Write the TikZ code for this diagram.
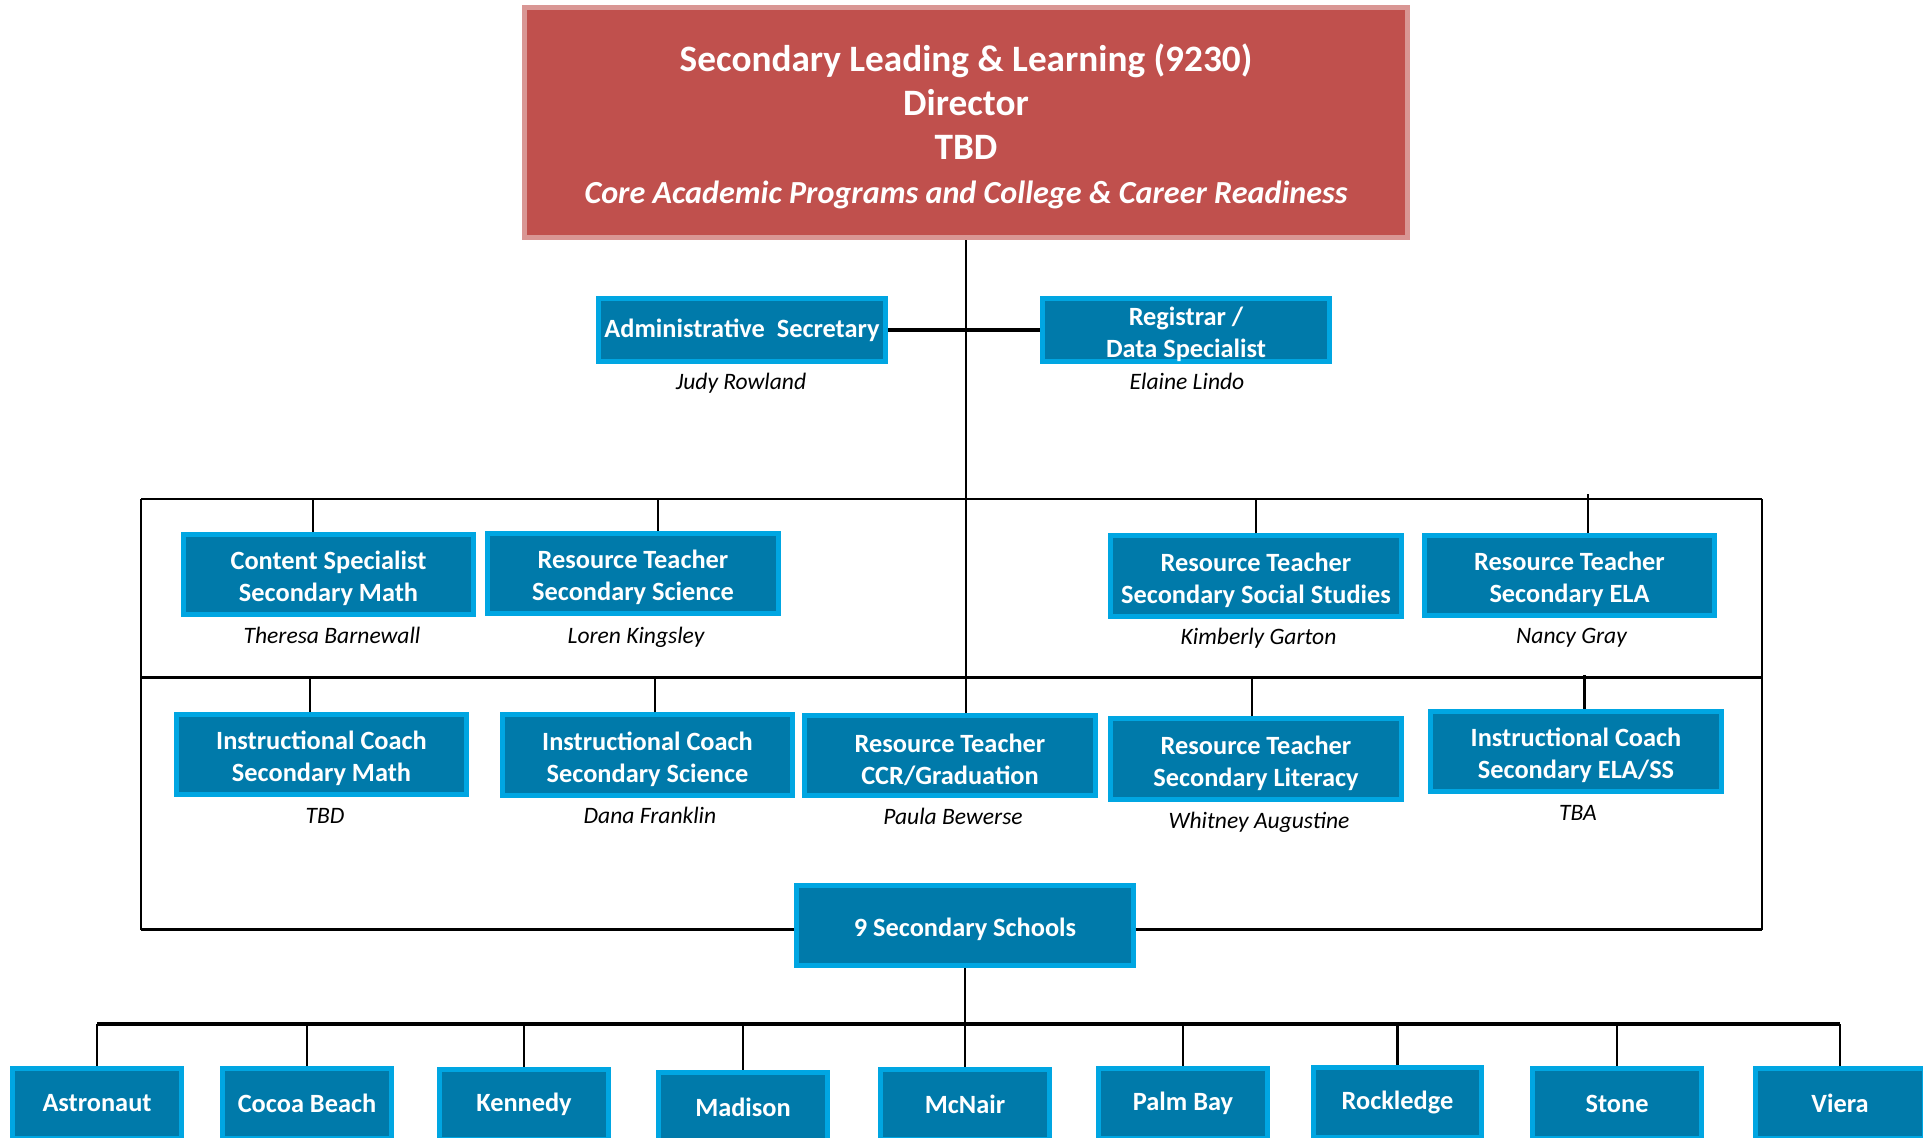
\documentclass[tikz,border=0pt]{standalone}
\usepackage{fontspec}
\setmainfont{Carlito}
\usepackage{tikz}

\definecolor{ruoloblu}{HTML}{007AAA}
\definecolor{bordoblu}{HTML}{00A6E2}
\definecolor{dirrosso}{HTML}{C0504D}
\definecolor{dirbordo}{HTML}{D99694}

\newcommand{\riga}{\rule{0pt}{7.7pt}}
\newcommand{\rigatop}{\rule{0pt}{10.2pt}}

\tikzset{
  ruolo/.style={draw=bordoblu, fill=ruoloblu, line width=1.3pt, text=white, align=center,
    font=\fontsize{7.5}{9.1}\selectfont\bfseries, inner sep=0pt,
    minimum width=2.905cm, minimum height=0.805cm},
  scuola/.style={ruolo, minimum width=1.685cm, minimum height=0.705cm},
  direttore/.style={draw=dirbordo, fill=dirrosso, line width=1.6pt, text=white, align=center,
    font=\fontsize{10.6}{12.5}\selectfont\bfseries, inner sep=0pt,
    minimum width=8.83cm, minimum height=2.30cm},
  nome/.style={font=\fontsize{6.7}{8}\selectfont\itshape, inner sep=0pt, text height=1.5ex, text depth=0.75ex},
  filo/.style={line width=0.6pt},
  cornice/.style={line width=0.7pt}
}

\begin{document}
\begin{tikzpicture}
              \path[use as bounding box, fill=white] (0,0) rectangle (19.23,-11.37);

              % Nodi
              \node[direttore] (0) at (9.66,-1.225) {\rigatop Secondary Leading \& Learning (9230)\\Director\\TBD\\{\fontsize{9.15}{12.5}\selectfont\itshape Core Academic Programs and College \& Career Readiness}};
              \node[ruolo, minimum width=2.875cm, minimum height=0.625cm] (1) at (7.42,-3.30) {Administrative~~Secretary};
              \node[ruolo, minimum width=2.875cm, minimum height=0.625cm] (2) at (11.86,-3.30) {\riga Registrar /\\Data Specialist};

              \node[ruolo] (3) at (3.285,-5.745) {\riga Content Specialist\\Secondary Math};
              \node[ruolo] (4) at (6.33,-5.735) {\riga Resource Teacher\\Secondary Science};
              \node[ruolo] (5) at (12.56,-5.76) {\riga Resource Teacher\\Secondary Social Studies};
              \node[ruolo] (6) at (15.695,-5.755) {\riga Resource Teacher\\Secondary ELA};

              \node[ruolo] (7) at (3.215,-7.545) {\riga Instructional Coach\\Secondary Math};
              \node[ruolo] (8) at (6.475,-7.55) {\riga Instructional Coach\\Secondary Science};
              \node[ruolo] (9) at (9.50,-7.555) {\riga Resource Teacher\\CCR/Graduation};
              \node[ruolo] (10) at (12.56,-7.59) {\riga Resource Teacher\\Secondary Literacy};
              \node[ruolo] (11) at (15.76,-7.515) {\riga Instructional Coach\\Secondary ELA/SS};

              \node[ruolo, minimum width=3.365cm] (12) at (9.65,-9.255) {\riga 9 Secondary Schools};

              \node[scuola] (s1) at (0.97,-11.035) {Astronaut};
              \node[scuola] (s2) at (3.07,-11.035) {Cocoa Beach};
              \node[scuola] (s3) at (5.24,-11.045) {Kennedy};
              \node[scuola] (s4) at (7.43,-11.075) {Madison};
              \node[scuola] (s5) at (9.65,-11.045) {McNair};
              \node[scuola] (s6) at (11.83,-11.035) {Palm Bay};
              \node[scuola] (s7) at (13.975,-11.025) {Rockledge};
              \node[scuola] (s8) at (16.17,-11.035) {Stone};
              \node[scuola] (s9) at (18.40,-11.035) {Viera};

              % Nomi
              \node[nome] (n1) at (7.41,-3.83) {Judy Rowland};
              \node[nome] (n2) at (11.87,-3.83) {Elaine Lindo};
              \node[nome] (n3) at (3.32,-6.37) {Theresa Barnewall};
              \node[nome] (n4) at (6.36,-6.37) {Loren Kingsley};
              \node[nome] (n5) at (12.585,-6.38) {Kimberly Garton};
              \node[nome] (n6) at (15.715,-6.37) {Nancy Gray};
              \node[nome] (n7) at (3.25,-8.17) {TBD};
              \node[nome] (n8) at (6.50,-8.17) {Dana Franklin};
              \node[nome] (n9) at (9.53,-8.18) {Paula Bewerse};
              \node[nome] (n10) at (12.59,-8.22) {Whitney Augustine};
              \node[nome] (n11) at (15.78,-8.14) {TBA};

              % Cornice
              \coordinate (tl) at (1.41,-4.99);
              \coordinate (tr) at (17.62,-4.99);
              \coordinate (ml) at (1.41,-6.775);
              \coordinate (mr) at (17.62,-6.775);
              \coordinate (bl) at (1.41,-9.295);
              \coordinate (br) at (17.62,-9.295);
              \coordinate (barra) at (9.65,-10.24);

              \draw[cornice] (tl) -- (tr);
              \draw[cornice] (ml) -- (mr);
              \draw[filo] (tl) -- (bl);
              \draw[filo] (tr) -- (br);
              \draw[line width=0.9pt] (bl) -- (12.west |- bl);
              \draw[line width=0.9pt] (12.east |- bl) -- (br);

              % Archi
              \draw[filo] (0.south) -- (0.south |- 9.north);
              \draw[line width=0.9pt] (1.east) -- (2.west);

              \draw[filo] ([xshift=-1.55mm]3.north) -- ([xshift=-1.55mm]3.north |- tl);
              \draw[filo] ([xshift=2.5mm]4.north) -- ([xshift=2.5mm]4.north |- tl);
              \draw[filo] (5.north) -- (5.north |- tl);
              \draw[filo] ([xshift=1.85mm]6.north) -- ([xshift=1.85mm,yshift=0.5mm]6.north |- tl);

              \draw[filo] ([xshift=-1.15mm]7.north) -- ([xshift=-1.15mm]7.north |- ml);
              \draw[filo] ([xshift=0.75mm]8.north) -- ([xshift=0.75mm]8.north |- ml);
              \draw[filo] ([xshift=-0.4mm]10.north) -- ([xshift=-0.4mm]10.north |- ml);
              \draw[filo] ([xshift=0.85mm]11.north) -- ([xshift=0.85mm,yshift=0.3mm]11.north |- ml);

              \draw[filo] (12.south) -- (s5.north);
              \draw[line width=0.9pt] (s1.north |- barra) -- (s9.north |- barra);
              \draw[filo] (s1.north) -- (s1.north |- barra);
              \draw[filo] (s2.north) -- (s2.north |- barra);
              \draw[filo] (s3.north) -- (s3.north |- barra);
              \draw[filo] (s4.north) -- (s4.north |- barra);
              \draw[filo] (s6.north) -- (s6.north |- barra);
              \draw[filo] (s7.north) -- (s7.north |- barra);
              \draw[filo] (s8.north) -- (s8.north |- barra);
              \draw[filo] (s9.north) -- (s9.north |- barra);
\end{tikzpicture}
\end{document}
